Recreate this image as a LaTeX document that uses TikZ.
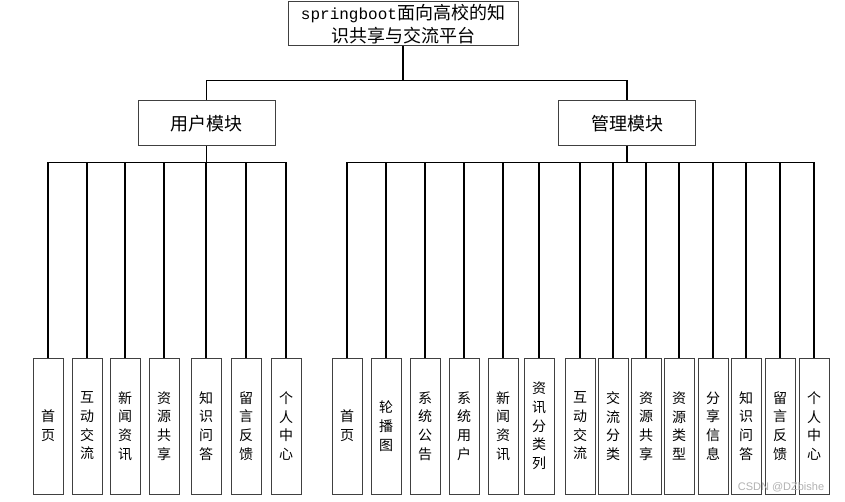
\documentclass[tikz,border=0pt]{standalone}
\usepackage{fontspec}
\setmainfont{Noto Sans CJK SC}
\newfontfamily\monofont{Liberation Mono}
\newfontfamily\markfont{Liberation Sans}
\begin{document}
\begin{tikzpicture}[
    x = 1pt, y = -1pt,
    box/.style = {
      draw = black!75,
      line width = 1pt,
      fill = white,
      inner sep = 0pt
    },
    rootbox/.style = {
      box,
      minimum width = 230pt,
      minimum height = 44pt,
      align = center,
      font = \fontsize{18}{23}\selectfont
    },
    modbox/.style = {
      box,
      minimum width = 137pt,
      minimum height = 45pt,
      font = \fontsize{18}{20}\selectfont
    },
    leaf/.style = {
      box,
      minimum width = 30pt,
      minimum height = 136pt,
      align = center,
      font = \fontsize{14}{18.7}\selectfont
    },
    every path/.style = {
      line width = 1.2pt
    }
  ]
    \useasboundingbox (0, 0) rectangle (845, 502);

    \node[rootbox] (root) at (403, 24) {{\monofont\fontsize{16}{23}\selectfont springboot}面向高校的知\\识共享与交流平台};

    \node[modbox] (user) at (206.5, 123.5) {用户模块};
    \node[modbox] (admin) at (627, 123.5) {管理模块};

    \draw (root.south) -- ++(0, 34) -| (user.north);
    \draw (root.south) ++(0, 34) -| (admin.north);

    % user leaves
    \foreach \idx/\xpos/\txt in {1/48/{首\\页}, 2/87/{互\\动\\交\\流}, 3/125/{新\\闻\\资\\讯},
        4/164/{资\\源\\共\\享}, 5/206/{知\\识\\问\\答}, 6/246/{留\\言\\反\\馈}, 7/286/{个\\人\\中\\心}} {
      \node[leaf] (u\idx) at (\xpos, 426) {\txt};
      \draw (user.south) -- ++(0, 16) -| (u\idx.north);
    }

    % admin leaves
    \foreach \idx/\xpos/\txt in {1/347/{首\\页}, 2/386/{轮\\播\\图}, 3/425/{系\\统\\公\\告},
        4/464/{系\\统\\用\\户}, 5/503/{新\\闻\\资\\讯}, 6/539/{资\\讯\\分\\类\\列},
        7/580/{互\\动\\交\\流}, 8/613/{交\\流\\分\\类}, 9/646/{资\\源\\共\\享},
        10/679/{资\\源\\类\\型}, 11/713/{分\\享\\信\\息}, 12/746/{知\\识\\问\\答},
        13/780/{留\\言\\反\\馈}, 14/814/{个\\人\\中\\心}} {
      \node[leaf] (a\idx) at (\xpos, 426) {\txt};
      \draw (admin.south) -- ++(0, 16) -| (a\idx.north);
    }

    \node[text = black!30, font = \markfont\fontsize{11}{13}\selectfont] (mark) at (781, 487) {CSDN @DZbishe};
\end{tikzpicture}
\end{document}
